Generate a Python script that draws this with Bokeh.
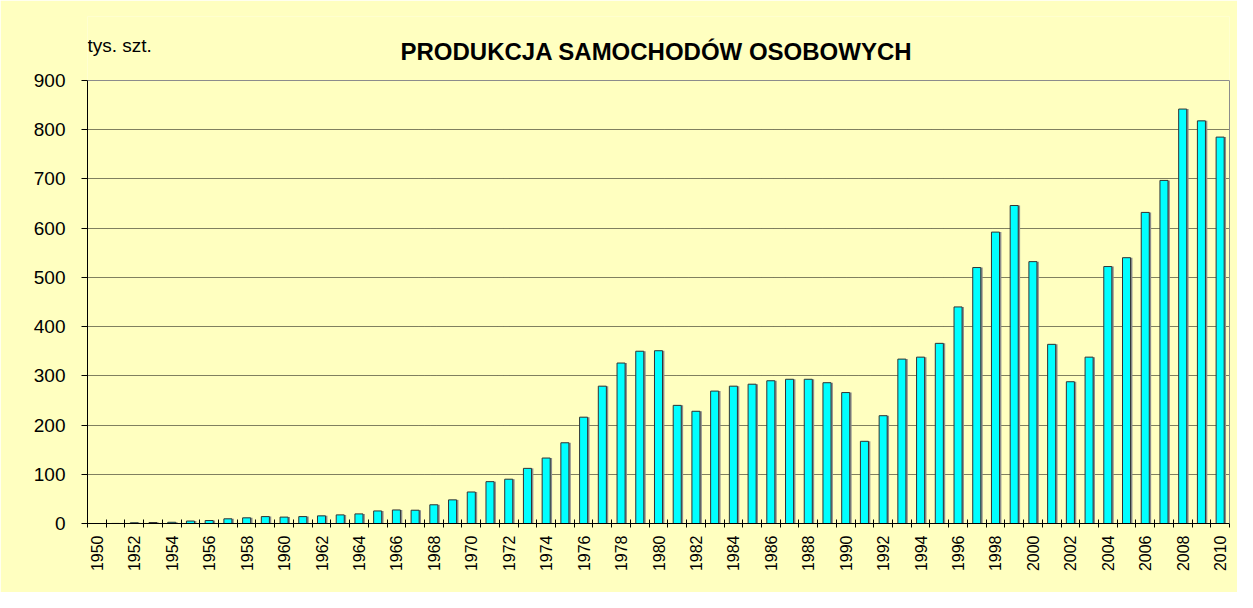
import math
from bokeh.plotting import figure
from bokeh.models import (FixedTicker, Range1d, ColumnDataSource, Label,
                          LinearAxis, Grid)
from bokeh.embed import file_html
from bokeh.resources import INLINE

# ---- data ----
years = list(range(1950, 2011))
production = [
    0.0, 0.1, 1.5, 2.0, 2.5, 5.0, 6.0, 9.5, 11.5, 14.0,          # 1950-1959
    13.0, 14.0, 15.5, 17.5, 19.5, 25.5, 27.5, 27.0, 38.0, 48.0,  # 1960-1969
    64.0, 85.0, 90.0, 112.0, 133.0, 164.0, 216.0, 279.0, 326.0, 350.0,  # 1970-1979
    351.0, 240.0, 228.0, 269.0, 279.0, 283.0, 290.0, 293.0, 293.0, 286.0,  # 1980-1989
    266.0, 167.0, 219.0, 334.0, 338.0, 366.0, 440.0, 520.0, 592.0, 646.0,  # 1990-1999
    532.0, 364.0, 288.0, 338.0, 522.0, 540.0, 632.0, 697.0, 842.0, 818.0,  # 2000-2009
    785.0,                                                        # 2010
]
y_ticks = [0, 100, 200, 300, 400, 500, 600, 700, 800, 900]
x_label_years = years[::2]
title_text = "PRODUKCJA SAMOCHODÓW OSOBOWYCH"
unit_text = "tys. szt."

FONT = "Liberation Sans"
BG = "#FFFFC0"

# layout (pixels)
W, H = 1237, 592
LEFT, RIGHT, BOTTOM = 87, 8, 69
AXIS_TOP_PX = 80          # where the 900 line sits
FRAME_TOP_PX = 16         # frame extended upward so the texts are not clipped
frame_h = H - BOTTOM - FRAME_TOP_PX
px_per_unit = (H - BOTTOM - AXIS_TOP_PX) / y_ticks[-1]
y_max = frame_h / px_per_unit

p = figure(
    width=W, height=H,
    output_backend="svg", toolbar_location=None,
    x_range=Range1d(years[0] - 0.5, years[-1] + 0.5),
    y_range=Range1d(0, y_max),
    min_border_left=LEFT, min_border_right=RIGHT,
    min_border_top=FRAME_TOP_PX, min_border_bottom=BOTTOM,
    background_fill_color=BG, border_fill_color=BG,
)
p.outline_line_color = None

shadow_x = [y + 0.1 for y in years]
src = ColumnDataSource(dict(x=years, sx=shadow_x, top=production))
p.vbar(x="sx", top="top", width=0.43, bottom=0, source=src,
       fill_color="#8C8C8C", line_color=None)
p.vbar(x="x", top="top", width=0.43, bottom=0, source=src,
       fill_color="#00FFFF", line_color="#333333", line_width=1)

# x axis
xa = p.xaxis[0]
xa.ticker = FixedTicker(ticks=x_label_years,
                        minor_ticks=[y - 0.5 for y in years] + [years[-1] + 0.5])
xa.major_tick_in = 0
xa.major_tick_out = 0
xa.minor_tick_in = 4
xa.minor_tick_out = 4
xa.minor_tick_line_color = "black"
xa.axis_line_color = "black"
xa.major_label_orientation = math.pi / 2
xa.major_label_standoff = 8
xa.major_label_text_font = FONT
xa.major_label_text_font_size = "16px"
xa.major_label_text_color = "black"

# y axis
ya = p.yaxis[0]
ya.ticker = FixedTicker(ticks=y_ticks)
ya.bounds = (y_ticks[0], y_ticks[-1])
ya.major_tick_in = 0
ya.major_tick_out = 6
ya.minor_tick_out = 0
ya.minor_tick_in = 0
ya.axis_line_color = "black"
ya.major_tick_line_color = "black"
ya.major_label_standoff = 16
ya.major_label_text_font = FONT
ya.major_label_text_font_size = "19px"
ya.major_label_text_color = "black"

# right border of the plot area (grey line up to 900)
ra = LinearAxis(ticker=FixedTicker(ticks=[]), bounds=(y_ticks[0], y_ticks[-1]),
                axis_line_color="#8C8C8C", major_tick_out=0, minor_tick_out=0,
                major_label_text_font_size="0px")
p.add_layout(ra, "right")

p.xgrid.visible = False
p.ygrid.ticker = FixedTicker(ticks=y_ticks[1:-1])
p.ygrid.grid_line_color = "black"
p.ygrid.grid_line_dash = "1 1"
p.ygrid.grid_line_width = 1
# top border of the plot area at 900
p.add_layout(Grid(dimension=1, ticker=FixedTicker(ticks=[y_ticks[-1]]),
                  grid_line_color="#8C8C8C", grid_line_width=1))

# texts (screen units measured from the frame's bottom-left corner)
frame_bottom_px = H - BOTTOM
p.add_layout(Label(x=(W - LEFT - RIGHT) / 2 - 2, y=frame_bottom_px - 51,
                   x_units="screen", y_units="screen",
                   text=title_text, text_align="center", text_baseline="alphabetic",
                   text_font=FONT, text_font_size="24px", text_font_style="bold",
                   text_color="black"))
p.add_layout(Label(x=0, y=frame_bottom_px - 45,
                   x_units="screen", y_units="screen",
                   text=unit_text, text_align="left", text_baseline="alphabetic",
                   text_font=FONT, text_font_size="19px", text_color="black"))

open("out.html", "w").write(file_html(p, INLINE))
